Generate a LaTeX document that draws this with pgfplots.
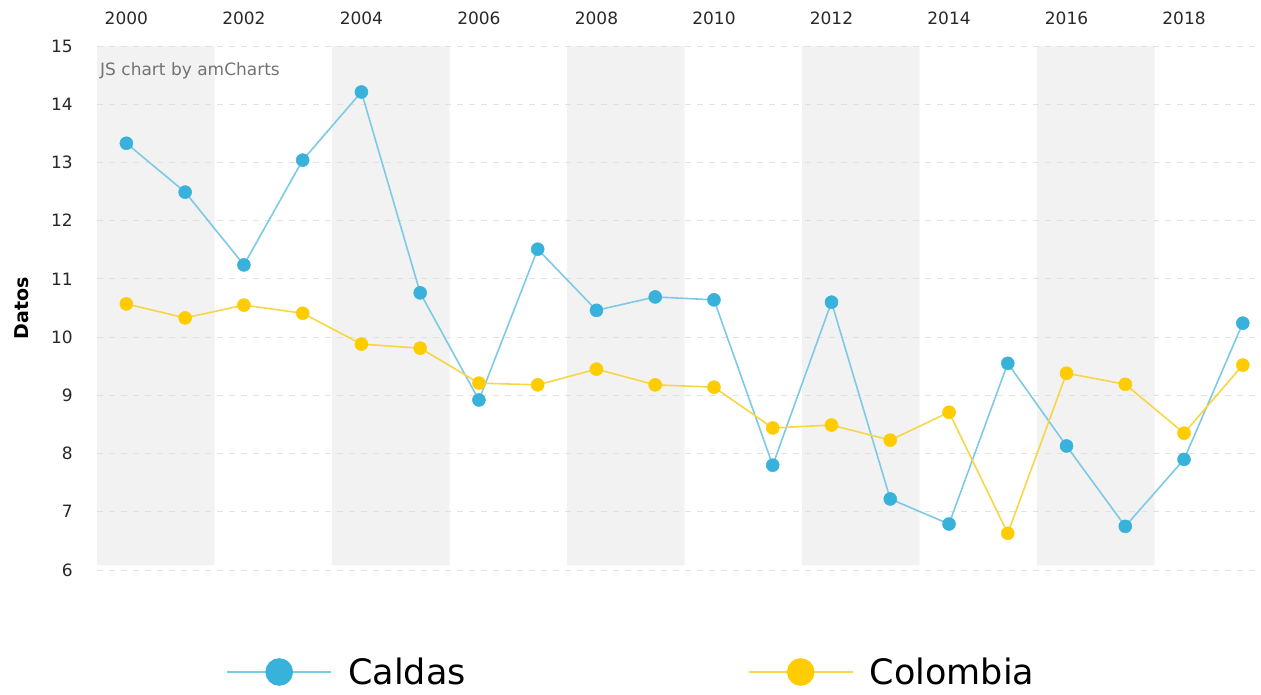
\documentclass[border=0pt]{standalone}
\usepackage{pgfplots}
\pgfplotsset{compat=1.18}
\usepackage{fontspec}
\setmainfont{DejaVu Sans}
\definecolor{caldasmark}{RGB}{56,178,219}
\definecolor{caldasline}{RGB}{125,202,230}
\definecolor{colmark}{RGB}{255,204,0}
\definecolor{colline}{RGB}{247,214,70}
\definecolor{bandgray}{RGB}{242,242,242}
\definecolor{gridgray}{RGB}{225,225,225}
\definecolor{ticktext}{RGB}{40,40,40}
\begin{document}
\begin{tikzpicture}
\begin{axis}[
  set layers,
  at={(97pt,124pt)}, anchor=south west,
  scale only axis, width=1164pt, height=524pt,
  xmin=1999.5, xmax=2019.31, ymin=6, ymax=15,
  xtick={2000,2002,...,2018},
  ytick={6,7,...,15},
  xticklabel pos=top,
  axis line style={draw=none},
  major tick length=0pt,
  ymajorgrids,
  major grid style={gridgray, line width=1pt, dash pattern=on 6pt off 6pt},
  /pgf/number format/assume math mode=true,
  /pgf/number format/1000 sep={},
  tick label style={font=\fontsize{17}{20}\selectfont, text=ticktext},
  xticklabel style={inner sep=0pt, anchor=base, yshift=22pt},
  yticklabel style={inner sep=0pt, anchor=east, xshift=-24pt},
  clip=false,
  legend columns=2,
  legend style={draw=none, fill=none, at={(axis description cs:0,0)}, anchor=west,
    xshift=129pt, yshift=-102pt, inner sep=0pt,
    font=\fontsize{35}{40}\selectfont,
    nodes={inner sep=0pt},
    /tikz/every odd column/.style={column sep=16pt},
    /tikz/every even column/.style={column sep=282pt}},
]
\addplot[fill=bandgray, draw=none, forget plot, on layer=axis background] coordinates {(1999.5,6.08) (2001.5,6.08) (2001.5,15) (1999.5,15) (1999.5,6.08)};
\addplot[fill=bandgray, draw=none, forget plot, on layer=axis background] coordinates {(2003.5,6.08) (2005.5,6.08) (2005.5,15) (2003.5,15) (2003.5,6.08)};
\addplot[fill=bandgray, draw=none, forget plot, on layer=axis background] coordinates {(2007.5,6.08) (2009.5,6.08) (2009.5,15) (2007.5,15) (2007.5,6.08)};
\addplot[fill=bandgray, draw=none, forget plot, on layer=axis background] coordinates {(2011.5,6.08) (2013.5,6.08) (2013.5,15) (2011.5,15) (2011.5,6.08)};
\addplot[fill=bandgray, draw=none, forget plot, on layer=axis background] coordinates {(2015.5,6.08) (2017.5,6.08) (2017.5,15) (2015.5,15) (2015.5,6.08)};

\addplot[caldasline, line width=1.6pt, mark=*, mark size=6.5pt,
  mark options={fill=caldasmark, draw=caldasmark, line width=0.5pt},
  legend image code/.code={\draw[caldasline, line width=2pt] (0pt,0pt) -- (104pt,0pt); \fill[caldasmark] (52pt,0pt) circle (13pt);}]
coordinates {
(2000,13.33) (2001,12.49) (2002,11.24) (2003,13.04) (2004,14.21)
(2005,10.76) (2006,8.92) (2007,11.51) (2008,10.46) (2009,10.69)
(2010,10.64) (2011,7.80) (2012,10.60) (2013,7.22) (2014,6.79)
(2015,9.55) (2016,8.13) (2017,6.75) (2018,7.90) (2019,10.24)
};
\addlegendentry{Caldas}
\addplot[colline, line width=1.6pt, mark=*, mark size=6.5pt,
  mark options={fill=colmark, draw=colmark, line width=0.5pt},
  legend image code/.code={\draw[colline, line width=2pt] (0pt,0pt) -- (104pt,0pt); \fill[colmark] (52pt,0pt) circle (13pt);}]
coordinates {
(2000,10.57) (2001,10.33) (2002,10.55) (2003,10.41) (2004,9.88)
(2005,9.81) (2006,9.21) (2007,9.18) (2008,9.45) (2009,9.18)
(2010,9.14) (2011,8.44) (2012,8.49) (2013,8.23) (2014,8.71)
(2015,6.63) (2016,9.38) (2017,9.19) (2018,8.35) (2019,9.52)
};
\addlegendentry{Colombia}
\end{axis}
\node[rotate=90, font=\fontsize{19}{22}\selectfont\bfseries, text=black] at (22pt,386pt) {Datos};
\node[anchor=west, font=\fontsize{17}{20}\selectfont, text=black!55, inner sep=0pt] at (100pt,623pt) {JS chart by amCharts};
\pgfresetboundingbox
\useasboundingbox (0,0) rectangle (1261pt,694pt);
\end{tikzpicture}
\end{document}
